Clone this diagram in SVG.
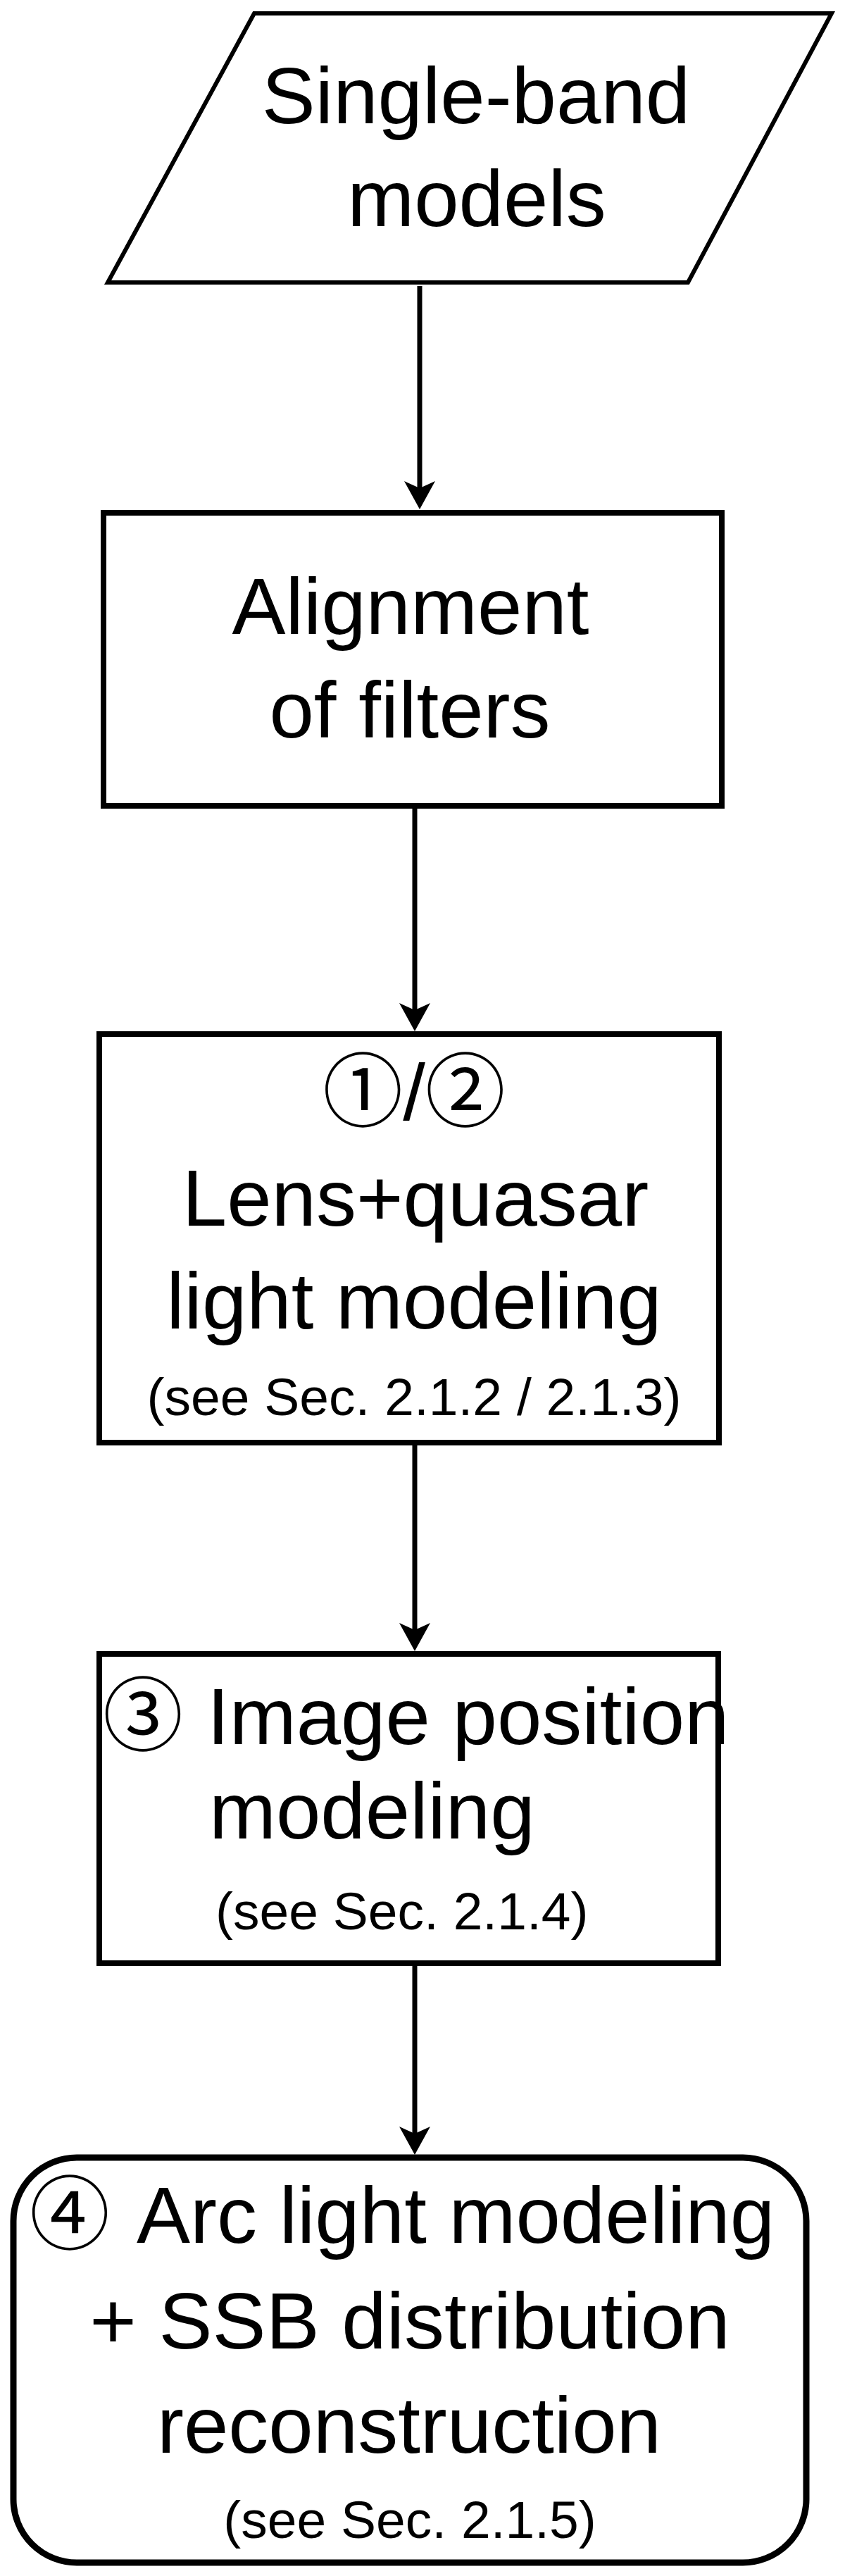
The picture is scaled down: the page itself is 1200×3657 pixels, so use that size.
<svg xmlns="http://www.w3.org/2000/svg" width="1200" height="3657" viewBox="0 0 1200 3657">
  <style>
    .shape { fill: #ffffff; stroke: #000000; }
    .box { stroke-width: 8; }
    .para { stroke-width: 6; stroke-linejoin: miter; }
    .conn { fill: none; stroke: #000000; stroke-width: 7; }
    .t { font-family: "Liberation Sans", "Noto Sans CJK JP", sans-serif; font-size: 114px; fill: #000000; }
    .s { font-family: "Liberation Sans", "Noto Sans CJK JP", sans-serif; font-size: 75px; fill: #000000; }
    .c { text-anchor: middle; }
  </style>
  <defs>
    <marker id="arrow" markerUnits="userSpaceOnUse" markerWidth="50" markerHeight="50" refX="20" refY="22" orient="auto" overflow="visible">
      <path d="M0,0 L40,22 L0,44 L10,22 Z" fill="#000000"/>
    </marker>
  </defs>
  <rect width="1200" height="3657" fill="#ffffff"/>

  <g id="connectors">
    <path class="conn" d="M596,406 V703" marker-end="url(#arrow)"/>
    <path class="conn" d="M589,1148 V1444" marker-end="url(#arrow)"/>
    <path class="conn" d="M589,2052 V2324" marker-end="url(#arrow)"/>
    <path class="conn" d="M589,2791 V3039" marker-end="url(#arrow)"/>
  </g>

  <g id="node-single-band">
    <polygon class="shape para" points="361,19 1181,19 977,401 153,401"/>
    <text class="t c" x="676" y="175">Single-band</text>
    <text class="t c" x="677" y="321">models</text>
  </g>

  <g id="node-alignment">
    <rect class="shape box" x="147" y="728" width="878" height="416"/>
    <text class="t c" x="583" y="900">Alignment</text>
    <text class="t c" x="582" y="1047">of filters</text>
  </g>

  <g id="node-lens-quasar">
    <rect class="shape box" x="141" y="1468" width="880" height="580"/>
    <text class="t c" x="588" y="1590">①/②</text>
    <text class="t c" x="590" y="1740">Lens+quasar</text>
    <text class="t c" x="588" y="1886">light modeling</text>
    <text class="s c" x="588" y="2009">(see Sec. 2.1.2 / 2.1.3)</text>
  </g>

  <g id="node-image-position">
    <rect class="shape box" x="141" y="2348" width="879" height="439"/>
    <text class="t" x="146" y="2476">③ <tspan x="294">Image position</tspan></text>
    <text class="t" x="297" y="2610">modeling</text>
    <text class="s" x="306" y="2739">(see Sec. 2.1.4)</text>
  </g>

  <g id="node-arc-light">
    <rect class="shape box" x="19" y="3063" width="1126" height="575" rx="90" ry="90" style="stroke-width:9"/>
    <text class="t" x="42" y="3184">④ <tspan x="194">Arc light modeling</tspan></text>
    <text class="t c" x="582" y="3334">+ SSB distribution</text>
    <text class="t c" x="581" y="3482">reconstruction</text>
    <text class="s c" x="582" y="3603">(see Sec. 2.1.5)</text>
  </g>
</svg>
